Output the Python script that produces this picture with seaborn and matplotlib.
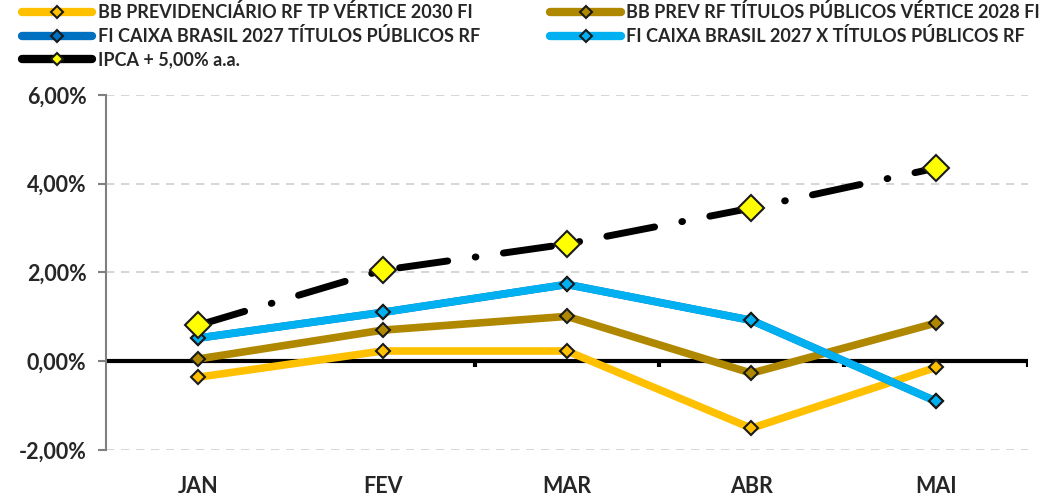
import numpy as np
import pandas as pd
import matplotlib
matplotlib.use("Agg")
import matplotlib.pyplot as plt
import seaborn as sns
from matplotlib.ticker import FuncFormatter
from matplotlib.lines import Line2D

meses = ["JAN", "FEV", "MAR", "ABR", "MAI"]

bb_2030 = [-0.36, 0.23, 0.23, -1.51, -0.14]
bb_2028 = [0.05, 0.70, 1.01, -0.27, 0.86]
caixa_2027 = [0.52, 1.10, 1.73, 0.92, -0.90]
caixa_2027x = [0.52, 1.10, 1.73, 0.92, -0.90]
ipca = [0.81, 2.05, 2.64, 3.45, 4.35]

nomes = ["BB PREVIDENCIÁRIO RF TP VÉRTICE 2030 FI",
         "BB PREV RF TÍTULOS PÚBLICOS VÉRTICE 2028 FI",
         "FI CAIXA BRASIL 2027 TÍTULOS PÚBLICOS RF",
         "FI CAIXA BRASIL 2027 X TÍTULOS PÚBLICOS RF",
         "IPCA + 5,00% a.a."]
cores = ["#FFC000", "#B08800", "#0070C0", "#00B0F0", "#000000"]

sns.set_style("white")
plt.rcParams['font.family'] = ['Lato', 'DejaVu Sans']
plt.rcParams['font.weight'] = 'bold'

fig = plt.figure(figsize=(10.48, 4.97), dpi=100)
ax = fig.add_axes([0.101, 0.0946, 0.88, 0.7145])

x = np.arange(len(meses))
series = [bb_2030, bb_2028, caixa_2027, caixa_2027x]
for cor, vals in zip(cores[:4], series):
    sns.lineplot(x=x, y=vals, ax=ax, color=cor, lw=5.5, marker="D",
                 markersize=7, markerfacecolor=cor, markeredgecolor="#1a1a1a",
                 markeredgewidth=1.5, zorder=3)

sns.lineplot(x=x, y=ipca, ax=ax, color="black", lw=5, marker="D",
             markersize=13, markerfacecolor="#FFFF00", markeredgecolor="#1a1a1a",
             markeredgewidth=1.5, zorder=4)
linha = ax.get_lines()[-1]
linha.set_dashes((7, 4, 0.1, 4))
linha.set_dash_capstyle("round")

ax.set_xlim(-0.5, 4.5)
ax.set_ylim(-2, 6)
ax.set_yticks([-2, 0, 2, 4, 6])
ax.yaxis.set_major_formatter(FuncFormatter(lambda v, p: f"{v:.2f}%".replace(".", ",")))
for y in [-2, 2, 4, 6]:
    ax.axhline(y, color="#d0d0d0", lw=1.2, ls=(0, (5, 4)), zorder=0)
ax.axhline(0, color="black", lw=3, zorder=2)
for xb in [0.5, 1.5, 2.5, 3.5, 4.5]:
    ax.plot([xb, xb], [0, -0.12], color="black", lw=3, solid_capstyle="butt", zorder=2)

ax.set_xticks(x)
ax.set_xticklabels(meses)
ax.tick_params(axis="x", length=0, pad=19, labelsize=15.5)
ax.tick_params(axis="y", length=6, color="#808080", width=1.5, labelsize=15.5, pad=8, left=True)
for s in ["top", "right", "bottom"]:
    ax.spines[s].set_visible(False)
ax.spines["left"].set_color("#808080")
ax.spines["left"].set_linewidth(1.5)
for t in ax.get_xticklabels() + ax.get_yticklabels():
    t.set_fontweight("bold")

faces = ["#FFC000", "#B08800", "#0070C0", "#00B0F0", "#FFFF00"]
handles = [Line2D([], [], color=c, lw=6, solid_capstyle="round", marker="D",
                  markersize=6, markerfacecolor=f, markeredgecolor="#1a1a1a",
                  markeredgewidth=1.5) for c, f in zip(cores, faces)]
ordem = [0, 2, 4, 1, 3]
fig.legend([handles[i] for i in ordem], [nomes[i] for i in ordem], ncol=2,
           loc="upper left", bbox_to_anchor=(0.014, 1.008), frameon=False,
           prop={"weight": "bold", "size": 13}, handlelength=3.9,
           handletextpad=0.3, columnspacing=3.9, labelspacing=0.33,
           borderaxespad=0)

fig.savefig("out.png", dpi=100)
